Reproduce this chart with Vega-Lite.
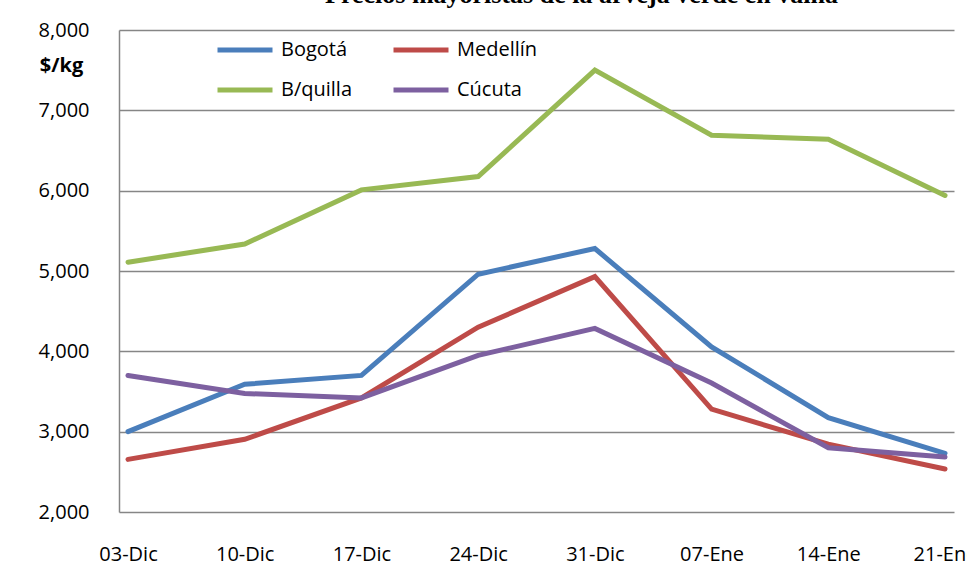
{
  "$schema": "https://vega.github.io/schema/vega-lite/v6.json",
  "width": 835,
  "height": 482,
  "autosize": "none",
  "padding": {"left": 119, "top": 30, "right": 13, "bottom": 66},
  "background": "white",
  "title": {
    "text": "Precios mayoristas de la arveja verde en vaina",
    "font": "Liberation Serif",
    "fontSize": 26,
    "fontWeight": "bold",
    "color": "black",
    "anchor": "middle",
    "dx": 45,
    "offset": 12
  },
  "data": {
    "values": [
      {"fecha": "03-Dic", "ciudad": "Bogotá", "precio": 3000},
      {"fecha": "10-Dic", "ciudad": "Bogotá", "precio": 3590},
      {"fecha": "17-Dic", "ciudad": "Bogotá", "precio": 3700},
      {"fecha": "24-Dic", "ciudad": "Bogotá", "precio": 4960},
      {"fecha": "31-Dic", "ciudad": "Bogotá", "precio": 5280},
      {"fecha": "07-Ene", "ciudad": "Bogotá", "precio": 4055},
      {"fecha": "14-Ene", "ciudad": "Bogotá", "precio": 3175},
      {"fecha": "21-Ene", "ciudad": "Bogotá", "precio": 2730},
      {"fecha": "03-Dic", "ciudad": "Medellín", "precio": 2655},
      {"fecha": "10-Dic", "ciudad": "Medellín", "precio": 2905},
      {"fecha": "17-Dic", "ciudad": "Medellín", "precio": 3420},
      {"fecha": "24-Dic", "ciudad": "Medellín", "precio": 4300},
      {"fecha": "31-Dic", "ciudad": "Medellín", "precio": 4930},
      {"fecha": "07-Ene", "ciudad": "Medellín", "precio": 3280},
      {"fecha": "14-Ene", "ciudad": "Medellín", "precio": 2845},
      {"fecha": "21-Ene", "ciudad": "Medellín", "precio": 2535},
      {"fecha": "03-Dic", "ciudad": "B/quilla", "precio": 5110},
      {"fecha": "10-Dic", "ciudad": "B/quilla", "precio": 5335},
      {"fecha": "17-Dic", "ciudad": "B/quilla", "precio": 6010},
      {"fecha": "24-Dic", "ciudad": "B/quilla", "precio": 6175},
      {"fecha": "31-Dic", "ciudad": "B/quilla", "precio": 7500},
      {"fecha": "07-Ene", "ciudad": "B/quilla", "precio": 6690},
      {"fecha": "14-Ene", "ciudad": "B/quilla", "precio": 6640},
      {"fecha": "21-Ene", "ciudad": "B/quilla", "precio": 5940},
      {"fecha": "03-Dic", "ciudad": "Cúcuta", "precio": 3700},
      {"fecha": "10-Dic", "ciudad": "Cúcuta", "precio": 3475},
      {"fecha": "17-Dic", "ciudad": "Cúcuta", "precio": 3420},
      {"fecha": "24-Dic", "ciudad": "Cúcuta", "precio": 3950},
      {"fecha": "31-Dic", "ciudad": "Cúcuta", "precio": 4285},
      {"fecha": "07-Ene", "ciudad": "Cúcuta", "precio": 3605},
      {"fecha": "14-Ene", "ciudad": "Cúcuta", "precio": 2800},
      {"fecha": "21-Ene", "ciudad": "Cúcuta", "precio": 2685}
    ]
  },
  "mark": {"type": "line", "strokeWidth": 5, "strokeCap": "round", "strokeJoin": "miter"},
  "encoding": {
    "x": {
      "field": "fecha",
      "type": "ordinal",
      "sort": ["03-Dic", "10-Dic", "17-Dic", "24-Dic", "31-Dic", "07-Ene", "14-Ene", "21-Ene"],
      "scale": {"type": "point", "padding": 0.077},
      "axis": {
        "title": null,
        "labelAngle": 0,
        "domain": false,
        "ticks": false,
        "grid": false,
        "labelPadding": 32,
        "labelFont": "Open Sans",
        "labelFontSize": 20,
        "labelColor": "black"
      }
    },
    "y": {
      "field": "precio",
      "type": "quantitative",
      "scale": {"domain": [2000, 8000], "nice": false, "zero": false},
      "axis": {
        "values": [2000, 3000, 4000, 5000, 6000, 7000, 8000],
        "format": ",d",
        "title": "$/kg",
        "titleAngle": 0,
        "titleX": -58,
        "titleY": 35,
        "titleAlign": "center",
        "titleBaseline": "middle",
        "titleFont": "Open Sans",
        "titleFontSize": 20,
        "titleFontWeight": "bold",
        "titleColor": "black",
        "domain": true,
        "domainColor": "#868686",
        "domainWidth": 1.5,
        "ticks": false,
        "grid": true,
        "gridColor": "#868686",
        "gridWidth": 1.5,
        "labelPadding": 30,
        "labelFont": "Open Sans",
        "labelFontSize": 20,
        "labelColor": "black"
      }
    },
    "color": {
      "field": "ciudad",
      "type": "nominal",
      "scale": {
        "domain": ["Bogotá", "Medellín", "B/quilla", "Cúcuta"],
        "range": ["#4A7EBB", "#BE4B48", "#98B954", "#7D60A0"]
      },
      "legend": {
        "title": null,
        "orient": "none",
        "legendX": 96,
        "legendY": -10,
        "columns": 2,
        "direction": "horizontal",
        "symbolType": "stroke",
        "symbolSize": 3025,
        "symbolStrokeWidth": 5,
        "labelFont": "Open Sans",
        "labelFontSize": 20,
        "labelColor": "black",
        "labelOffset": 6,
        "columnPadding": 30,
        "rowPadding": -6
      }
    }
  },
  "config": {"view": {"stroke": null}}
}
